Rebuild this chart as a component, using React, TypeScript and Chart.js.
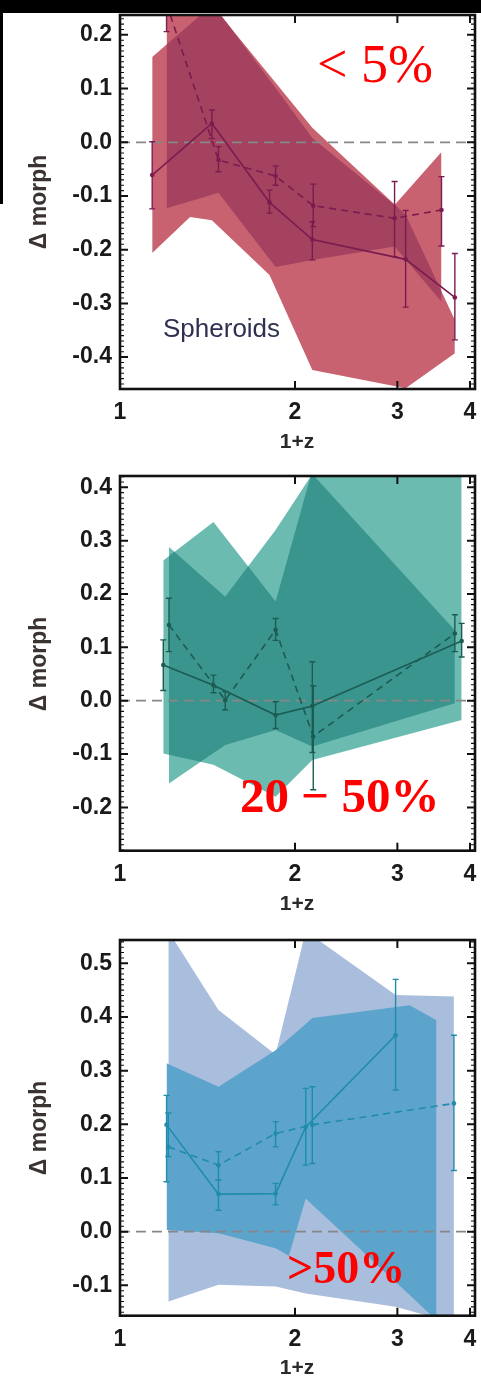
import React, { useEffect, useRef } from "react";
import { Chart, registerables } from "chart.js";
Chart.register(...registerables);

// ---------- shared axis ----------
const X_MIN = 1;
const X_MAX = 4.08;
const X_TICKS = [1, 2, 3, 4];
const X_MAJOR_MARKS = [2, 3, 4];

// ---------- Panel 1 (< 5%, Spheroids) ----------
const P1_SOLID_X = [1.136, 1.439, 1.808, 2.142, 3.1, 3.767];
const P1_SOLID_Y = [-0.061, 0.035, -0.112, -0.181, -0.218, -0.289];
const P1_SOLID_LO = [-0.124, 0.007, -0.132, -0.219, -0.307, -0.368];
const P1_SOLID_HI = [0.001, 0.06, -0.089, -0.148, -0.127, -0.207];
const P1_DASH_X = [1.2025, 1.477, 1.852, 2.15, 2.967, 3.573];
const P1_DASH_Y = [0.258, -0.033, -0.063, -0.118, -0.1415, -0.126];
const P1_DASH_LO = [0.206, -0.055, -0.08, -0.157, -0.213, -0.193];
const P1_DASH_HI = [0.31, -0.008, -0.044, -0.078, -0.073, -0.064];
const P1_BAND_A_X = [1.136, 1.32, 1.439, 1.808, 2.142, 3.1, 3.767];
const P1_BAND_A_UP = [0.159, 0.22, 0.256, 0.125, 0.027, -0.135, -0.331];
const P1_BAND_A_LO = [-0.206, -0.139, -0.145, -0.247, -0.424, -0.458, -0.393];
const P1_BAND_B_X = [1.2025, 1.477, 1.852, 2.142, 2.967, 3.573];
const P1_BAND_B_UP = [0.259, 0.243, 0.101, 0.008, -0.117, -0.018];
const P1_BAND_B_LO = [-0.123, -0.094, -0.232, -0.219, -0.194, -0.297];

// ---------- Panel 2 (20 - 50%) ----------
const P2_SOLID_X = [1.187, 1.448, 1.852, 2.142, 3.87];
const P2_SOLID_Y = [0.067, 0.029, -0.027, -0.01, 0.112];
const P2_SOLID_LO = [0.019, 0.015, -0.052, -0.097, 0.082];
const P2_SOLID_HI = [0.114, 0.048, -0.002, 0.073, 0.145];
const P2_DASH_X = [1.214, 1.517, 1.852, 2.15, 3.767];
const P2_DASH_Y = [0.142, 0.001, 0.133, -0.067, 0.126];
const P2_DASH_LO = [0.092, -0.017, 0.113, -0.167, 0.092];
const P2_DASH_HI = [0.192, 0.017, 0.154, 0.028, 0.161];
const P2_BAND_A_X = [1.187, 1.448, 1.852, 2.142, 3.87];
const P2_BAND_A_UP = [0.263, 0.335, 0.186, 0.432, 0.451];
const P2_BAND_A_LO = [-0.099, -0.12, -0.18, -0.111, -0.036];
const P2_BAND_B_X = [1.214, 1.517, 1.852, 2.142, 3.767];
const P2_BAND_B_UP = [0.288, 0.195, 0.32, 0.425, 0.132];
const P2_BAND_B_LO = [-0.155, -0.083, -0.055, -0.086, -0.005];

// ---------- Panel 3 (> 50%) ----------
const P3_SOLID_X = [1.2025, 1.477, 1.852, 2.087, 2.979];
const P3_SOLID_Y = [0.199, 0.07, 0.071, 0.195, 0.366];
const P3_SOLID_LO = [0.093, 0.04, 0.05, 0.124, 0.264];
const P3_SOLID_HI = [0.254, 0.096, 0.09, 0.267, 0.47];
const P3_DASH_X = [1.211, 1.477, 1.852, 2.142, 3.753];
const P3_DASH_Y = [0.158, 0.124, 0.183, 0.199, 0.239];
const P3_DASH_LO = [0.14, 0.096, 0.158, 0.127, 0.114];
const P3_DASH_HI = [0.221, 0.149, 0.205, 0.27, 0.366];
const P3_BAND_L_X = [1.211, 1.477, 1.852, 2.087, 2.979, 3.753];
const P3_BAND_L_UP = [0.56, 0.413, 0.33, 0.56, 0.441, 0.438];
const P3_BAND_L_LO = [-0.13, -0.099, -0.102, -0.115, -0.14, -0.17];
const P3_BAND_C_X = [1.2025, 1.477, 1.852, 1.952, 2.087, 2.142, 3.15, 3.503];
const P3_BAND_C_UP = [0.314, 0.27, 0.338, 0.36, 0.387, 0.398, 0.422, 0.394];
const P3_BAND_C_LO = [0.003, -0.003, -0.031, -0.045, 0.062, 0.05, -0.118, -0.165];

type Band = { x: number[]; upper: number[]; lower: number[] };

const lg = Math.log10;
function valueAt(xs: number[], vs: number[], t: number): number {
  for (let i = 0; i < xs.length - 1; i++) {
    const t0 = lg(xs[i]);
    const t1 = lg(xs[i + 1]);
    if (t >= t0 - 1e-12 && t <= t1 + 1e-12) {
      const f = t1 === t0 ? 0 : (t - t0) / (t1 - t0);
      return vs[i] + f * (vs[i + 1] - vs[i]);
    }
  }
  return NaN;
}
function uniqSorted(a: number[]) {
  const s = [...a].sort((p, q) => p - q);
  const out: number[] = [];
  for (const v of s) if (!out.length || Math.abs(v - out[out.length - 1]) > 1e-10) out.push(v);
  return out;
}
// region covered by both bands (drawn darker)
function overlapBand(a: Band, b: Band): Band {
  const lo = Math.max(lg(a.x[0]), lg(b.x[0]));
  const hi = Math.min(lg(a.x[a.x.length - 1]), lg(b.x[b.x.length - 1]));
  let ts = uniqSorted([...a.x, ...b.x].map(lg).filter((t) => t >= lo && t <= hi).concat([lo, hi]));
  const uA = (t: number) => valueAt(a.x, a.upper, t);
  const uB = (t: number) => valueAt(b.x, b.upper, t);
  const lA = (t: number) => valueAt(a.x, a.lower, t);
  const lB = (t: number) => valueAt(b.x, b.lower, t);
  const addCross = (f: (t: number) => number) => {
    const extra: number[] = [];
    for (let i = 0; i < ts.length - 1; i++) {
      const f0 = f(ts[i]);
      const f1 = f(ts[i + 1]);
      if (f0 * f1 < 0) extra.push(ts[i] + ((ts[i + 1] - ts[i]) * f0) / (f0 - f1));
    }
    ts = uniqSorted(ts.concat(extra));
  };
  addCross((t) => uA(t) - uB(t));
  addCross((t) => lA(t) - lB(t));
  const U = (t: number) => Math.min(uA(t), uB(t));
  const L = (t: number) => Math.max(lA(t), lB(t));
  addCross((t) => U(t) - L(t));
  return {
    x: ts.map((t) => Math.pow(10, t)),
    upper: ts.map((t) => Math.max(U(t), L(t))),
    lower: ts.map((t) => L(t)),
  };
}

type Series = { x: number[]; y: number[]; lo: number[]; hi: number[] };

type PanelCfg = {
  top: number;
  height: number;
  padTop: number;
  xAxisH: number;
  yMin: number;
  yMax: number;
  bands: { band: Band; color: string }[];
  solid: Series;
  dashed: Series;
  lineColor: string;
};

const band = (x: number[], upper: number[], lower: number[]): Band => ({ x, upper, lower });
const series = (x: number[], y: number[], lo: number[], hi: number[]): Series => ({ x, y, lo, hi });

const p1A = band(P1_BAND_A_X, P1_BAND_A_UP, P1_BAND_A_LO);
const p1B = band(P1_BAND_B_X, P1_BAND_B_UP, P1_BAND_B_LO);
const p2A = band(P2_BAND_A_X, P2_BAND_A_UP, P2_BAND_A_LO);
const p2B = band(P2_BAND_B_X, P2_BAND_B_UP, P2_BAND_B_LO);

const PANELS: PanelCfg[] = [
  {
    top: 0, height: 460, padTop: 15, xAxisH: 71, yMin: -0.4594, yMax: 0.237,
    bands: [
      { band: p1A, color: "#C96270" },
      { band: p1B, color: "#C96270" },
      { band: overlapBand(p1A, p1B), color: "#A4425F" },
    ],
    solid: series(P1_SOLID_X, P1_SOLID_Y, P1_SOLID_LO, P1_SOLID_HI),
    dashed: series(P1_DASH_X, P1_DASH_Y, P1_DASH_LO, P1_DASH_HI),
    lineColor: "#7A1C50",
  },
  {
    top: 460, height: 470, padTop: 16, xAxisH: 79.3, yMin: -0.2812, yMax: 0.4212,
    bands: [
      { band: p2A, color: "#6BBBB0" },
      { band: p2B, color: "#6BBBB0" },
      { band: overlapBand(p2A, p2B), color: "#3A958E" },
    ],
    solid: series(P2_SOLID_X, P2_SOLID_Y, P2_SOLID_LO, P2_SOLID_HI),
    dashed: series(P2_DASH_X, P2_DASH_Y, P2_DASH_LO, P2_DASH_HI),
    lineColor: "#1C5C52",
  },
  {
    top: 930, height: 446, padTop: 10, xAxisH: 60.3, yMin: -0.1565, yMax: 0.5434,
    bands: [
      { band: band(P3_BAND_L_X, P3_BAND_L_UP, P3_BAND_L_LO), color: "#A9BDDC" },
      { band: band(P3_BAND_C_X, P3_BAND_C_UP, P3_BAND_C_LO), color: "#5CA4CB" },
    ],
    solid: series(P3_SOLID_X, P3_SOLID_Y, P3_SOLID_LO, P3_SOLID_HI),
    dashed: series(P3_DASH_X, P3_DASH_Y, P3_DASH_LO, P3_DASH_HI),
    lineColor: "#1F8CAB",
  },
];

const decorPlugin = {
  id: "decor",
  afterDatasetsDraw(chart: any, _args: any, opts: any) {
    const { ctx, chartArea: a, scales } = chart;
    const xs = scales.x;
    const ys = scales.y;
    ctx.save();
    ctx.beginPath();
    ctx.rect(a.left, a.top, a.right - a.left, a.bottom - a.top);
    ctx.clip();
    ctx.strokeStyle = opts.color;
    ctx.lineWidth = 1.4;
    for (const s of opts.series as Series[]) {
      s.x.forEach((xv, i) => {
        const px = xs.getPixelForValue(xv);
        const p1 = ys.getPixelForValue(s.lo[i]);
        const p2 = ys.getPixelForValue(s.hi[i]);
        ctx.beginPath();
        ctx.moveTo(px, p1);
        ctx.lineTo(px, p2);
        ctx.moveTo(px - 3, p1);
        ctx.lineTo(px + 3, p1);
        ctx.moveTo(px - 3, p2);
        ctx.lineTo(px + 3, p2);
        ctx.stroke();
      });
    }
    ctx.restore();
  },
  afterDraw(chart: any) {
    const { ctx, chartArea: a, scales } = chart;
    const xs = scales.x;
    const ys = scales.y;
    ctx.save();
    ctx.strokeStyle = "#111";
    ctx.lineWidth = 1.1;
    ctx.beginPath();
    const k0 = Math.ceil(ys.min * 100 - 1e-9);
    const k1 = Math.floor(ys.max * 100 + 1e-9);
    for (let k = k0; k <= k1; k++) {
      if (k % 10 === 0) continue;
      const py = ys.getPixelForValue(k / 100);
      ctx.moveTo(a.left, py);
      ctx.lineTo(a.left + 4, py);
      ctx.moveTo(a.right, py);
      ctx.lineTo(a.right - 4, py);
    }
    ctx.stroke();
    ctx.lineWidth = 2;
    ctx.beginPath();
    for (let k = k0; k <= k1; k++) {
      if (k % 10 !== 0) continue;
      const py = ys.getPixelForValue(k / 100);
      ctx.moveTo(a.left, py);
      ctx.lineTo(a.left + 8, py);
      ctx.moveTo(a.right, py);
      ctx.lineTo(a.right - 8, py);
    }
    for (const v of X_MAJOR_MARKS) {
      const px = xs.getPixelForValue(v);
      ctx.moveTo(px, a.bottom);
      ctx.lineTo(px, a.bottom - 8);
      ctx.moveTo(px, a.top);
      ctx.lineTo(px, a.top + 8);
    }
    ctx.stroke();
    ctx.lineWidth = 2.6;
    ctx.strokeRect(a.left, a.top, a.right - a.left, a.bottom - a.top);
    ctx.restore();
  },
};

function pts(x: number[], y: number[]) {
  return x.map((xv, i) => ({ x: xv, y: y[i] }));
}

function makeConfig(p: PanelCfg): any {
  const datasets: any[] = [];
  let order = 30;
  for (const b of p.bands) {
    datasets.push({
      data: pts(b.band.x, b.band.upper),
      borderWidth: 0,
      borderColor: "transparent",
      pointRadius: 0,
      backgroundColor: b.color,
      fill: "+1",
      order,
    });
    datasets.push({
      data: pts(b.band.x, b.band.lower),
      borderWidth: 0,
      borderColor: "transparent",
      pointRadius: 0,
      fill: false,
      order,
    });
    order--;
  }
  datasets.push({
    data: [{ x: X_MIN, y: 0 }, { x: X_MAX, y: 0 }],
    borderColor: "#878787",
    borderWidth: 1.7,
    borderDash: [10, 6],
    pointRadius: 0,
    fill: false,
    order: 5,
  });
  datasets.push({
    data: pts(p.solid.x, p.solid.y),
    borderColor: p.lineColor,
    borderWidth: 1.6,
    pointRadius: 2.3,
    pointBackgroundColor: p.lineColor,
    pointBorderWidth: 0,
    fill: false,
    order: 1,
  });
  datasets.push({
    data: pts(p.dashed.x, p.dashed.y),
    borderColor: p.lineColor,
    borderWidth: 1.6,
    borderDash: [7, 5],
    pointRadius: 2.3,
    pointBackgroundColor: p.lineColor,
    pointBorderWidth: 0,
    fill: false,
    order: 1,
  });

  const tickFont = { family: "'Liberation Sans', Arial, sans-serif", size: 23, weight: "bold" as const };
  return {
    type: "line",
    data: { datasets },
    options: {
      responsive: false,
      animation: false,
      events: [],
      layout: { autoPadding: false, padding: { top: p.padTop, right: 6, bottom: 0, left: 0 } },
      plugins: {
        legend: { display: false },
        tooltip: { enabled: false },
        decor: { color: p.lineColor, series: [p.solid, p.dashed] },
      },
      scales: {
        x: {
          type: "logarithmic",
          min: X_MIN,
          max: X_MAX,
          afterBuildTicks: (s: any) => {
            s.ticks = X_TICKS.map((v) => ({ value: v }));
          },
          afterFit: (s: any) => {
            s.height = p.xAxisH;
            s.paddingLeft = 0;
            s.paddingRight = 0;
          },
          grid: { display: false, drawTicks: false },
          border: { display: false },
          ticks: {
            autoSkip: false,
            maxRotation: 0,
            padding: 10,
            color: "#1a1a1a",
            font: { ...tickFont, size: 23 },
            callback: (v: any) => String(v),
          },
        },
        y: {
          type: "linear",
          min: p.yMin,
          max: p.yMax,
          afterFit: (s: any) => {
            s.width = 120;
            s.paddingTop = 0;
            s.paddingBottom = 0;
          },
          grid: { display: false, drawTicks: false },
          border: { display: false },
          ticks: {
            stepSize: 0.1,
            includeBounds: false,
            padding: 8,
            color: "#1a1a1a",
            font: tickFont,
            callback: (v: any) => (Math.abs(v) < 1e-9 ? "0.0" : Number(v).toFixed(1)),
          },
        },
      },
    },
    plugins: [decorPlugin],
  };
}

function Panel({ cfg }: { cfg: PanelCfg }) {
  const ref = useRef<HTMLCanvasElement>(null);
  useEffect(() => {
    const chart = new Chart(ref.current as HTMLCanvasElement, makeConfig(cfg));
    return () => chart.destroy();
  }, [cfg]);
  return (
    <canvas
      ref={ref}
      width={481}
      height={cfg.height}
      style={{ position: "absolute", left: 0, top: cfg.top, width: 481, height: cfg.height }}
    />
  );
}

const sans = "'Liberation Sans', Arial, sans-serif";
const serif = "'Liberation Serif', 'Times New Roman', serif";

function YTitle({ cy }: { cy: number }) {
  return (
    <div
      style={{
        position: "absolute", left: 38, top: cy, transform: "translate(-50%, -50%) rotate(-90deg)",
        whiteSpace: "nowrap", fontFamily: sans, fontWeight: "bold", fontSize: 23, color: "#3b3232", lineHeight: 1,
      }}
    >
      Δ morph
    </div>
  );
}
function XTitle({ cy }: { cy: number }) {
  return (
    <div
      style={{
        position: "absolute", left: 297, top: cy, transform: "translate(-50%, -50%)",
        whiteSpace: "nowrap", fontFamily: sans, fontWeight: "bold", fontSize: 21, color: "#2a2a2a", lineHeight: 1,
      }}
    >
      1+z
    </div>
  );
}
function Label({ text, left, top, size, bold, color, family }: any) {
  return (
    <div
      style={{
        position: "absolute", left, top, whiteSpace: "nowrap", fontFamily: family, fontSize: size,
        fontWeight: bold ? "bold" : "normal", color, lineHeight: 1,
      }}
    >
      {text}
    </div>
  );
}

export default function App() {
  return (
    <div style={{ position: "absolute", left: 0, top: 0, width: 481, height: 1376, background: "#fff", overflow: "hidden" }}>
      {PANELS.map((p, i) => (
        <Panel key={i} cfg={p} />
      ))}
      <div style={{ position: "absolute", left: 0, top: 0, width: 481, height: 13, background: "#000" }} />
      <div style={{ position: "absolute", left: 0, top: 0, width: 3, height: 204, background: "#000" }} />
      <YTitle cy={202} />
      <YTitle cy={664} />
      <YTitle cy={1128} />
      <XTitle cy={440} />
      <XTitle cy={902} />
      <XTitle cy={1366} />
      <Label text="Spheroids" left={163} top={315} size={26} bold={false} color="#2e3050" family={sans} />
      <Label text={"< 5%"} left={317} top={37} size={54} bold={false} color="#ff0000" family={serif} />
      <Label text={"20 \u2212 50%"} left={240} top={771} size={49} bold={true} color="#ff0000" family={serif} />
      <Label text={">50%"} left={287} top={1245} size={46} bold={true} color="#ff0000" family={serif} />
    </div>
  );
}
